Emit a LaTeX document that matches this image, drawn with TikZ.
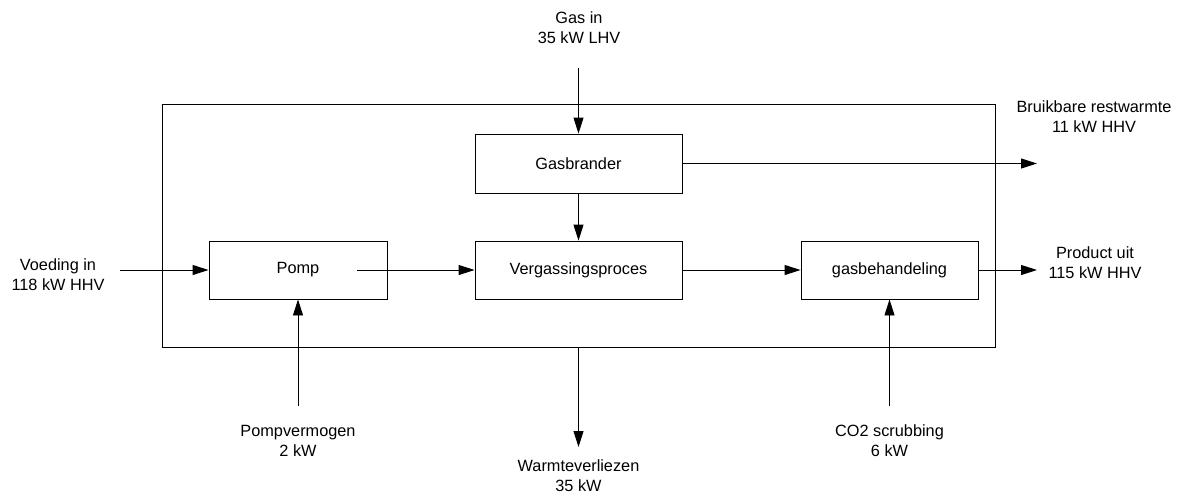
\documentclass[tikz,border=0pt]{standalone}
\usepackage{fontspec}
\setmainfont{Liberation Sans}
\usetikzlibrary{arrows.meta}
\tikzstyle{arrow} = [->,>={Triangle[length=16pt,width=10pt]}]
\tikzstyle{block} = [draw, rectangle, minimum height=58pt, inner sep=0pt]
\tikzstyle{flowtext} = [align=center, inner sep=0pt]

\begin{document}
\begin{tikzpicture}[x=1pt,y=-1pt,line width=0.9pt,font=\fontsize{16.3}{20}\selectfont]
            \useasboundingbox (0,0) rectangle (1185,493);
            % system boundary
            \node[draw, rectangle, minimum width=833pt, minimum height=243pt, inner sep=0pt] (sys) at (578.5,225.5) {};
            % process blocks
            \node[block, minimum width=207pt, minimum height=59pt] (brander) at (578.5,163.5) {Gasbrander};
            \node[block, minimum width=178pt] (pomp) at (298,270) {Pomp};
            \node[block, minimum width=207pt] (verg) at (578.5,270) {Vergassingsproces};
            \node[block, minimum width=177pt] (behandeling) at (889.5,270) {gasbehandeling};
            % in- and outputs
            \node[flowtext] (gasin) at (579,28) {Gas in\\35 kW LHV};
            \node[flowtext] (voeding) at (58,275) {Voeding in\\118 kW HHV};
            \node[flowtext] (restwarmte) at (1094,117) {Bruikbare restwarmte\\11 kW HHV};
            \node[flowtext] (product) at (1095,263) {Product uit\\115 kW HHV};
            \node[flowtext] (pompverm) at (298,441) {Pompvermogen\\2 kW};
            \node[flowtext] (scrubbing) at (889.5,441) {CO2 scrubbing\\6 kW};
            \node[flowtext] (verliezen) at (578.5,476) {Warmteverliezen\\35 kW};
            \coordinate (gasstart) at (578.5,68);
            \coordinate (voedstart) at (120,270);
            \coordinate (warmteend) at (1037,163.5);
            \coordinate (productend) at (1037,270);
            \coordinate (pompstart) at (298,406);
            \coordinate (scrubstart) at (889.5,406);
            \coordinate (verliesend) at (578.5,447);
            % flows
            \draw[arrow] (gasstart) -- (brander);
            \draw[arrow] (brander) -- (verg);
            \draw[arrow] (brander) -- (warmteend);
            \draw[arrow] (voedstart) -- (pomp);
            \draw[arrow] ([xshift=-30pt]pomp.east) -- (verg);
            \draw[arrow] (verg) -- (behandeling);
            \draw[arrow] (behandeling) -- (productend);
            \draw[arrow] (pompstart) -- (pomp);
            \draw[arrow] (scrubstart) -- (behandeling);
            \draw[arrow] (sys.south) -- (verliesend);
        \end{tikzpicture}
\end{document}
